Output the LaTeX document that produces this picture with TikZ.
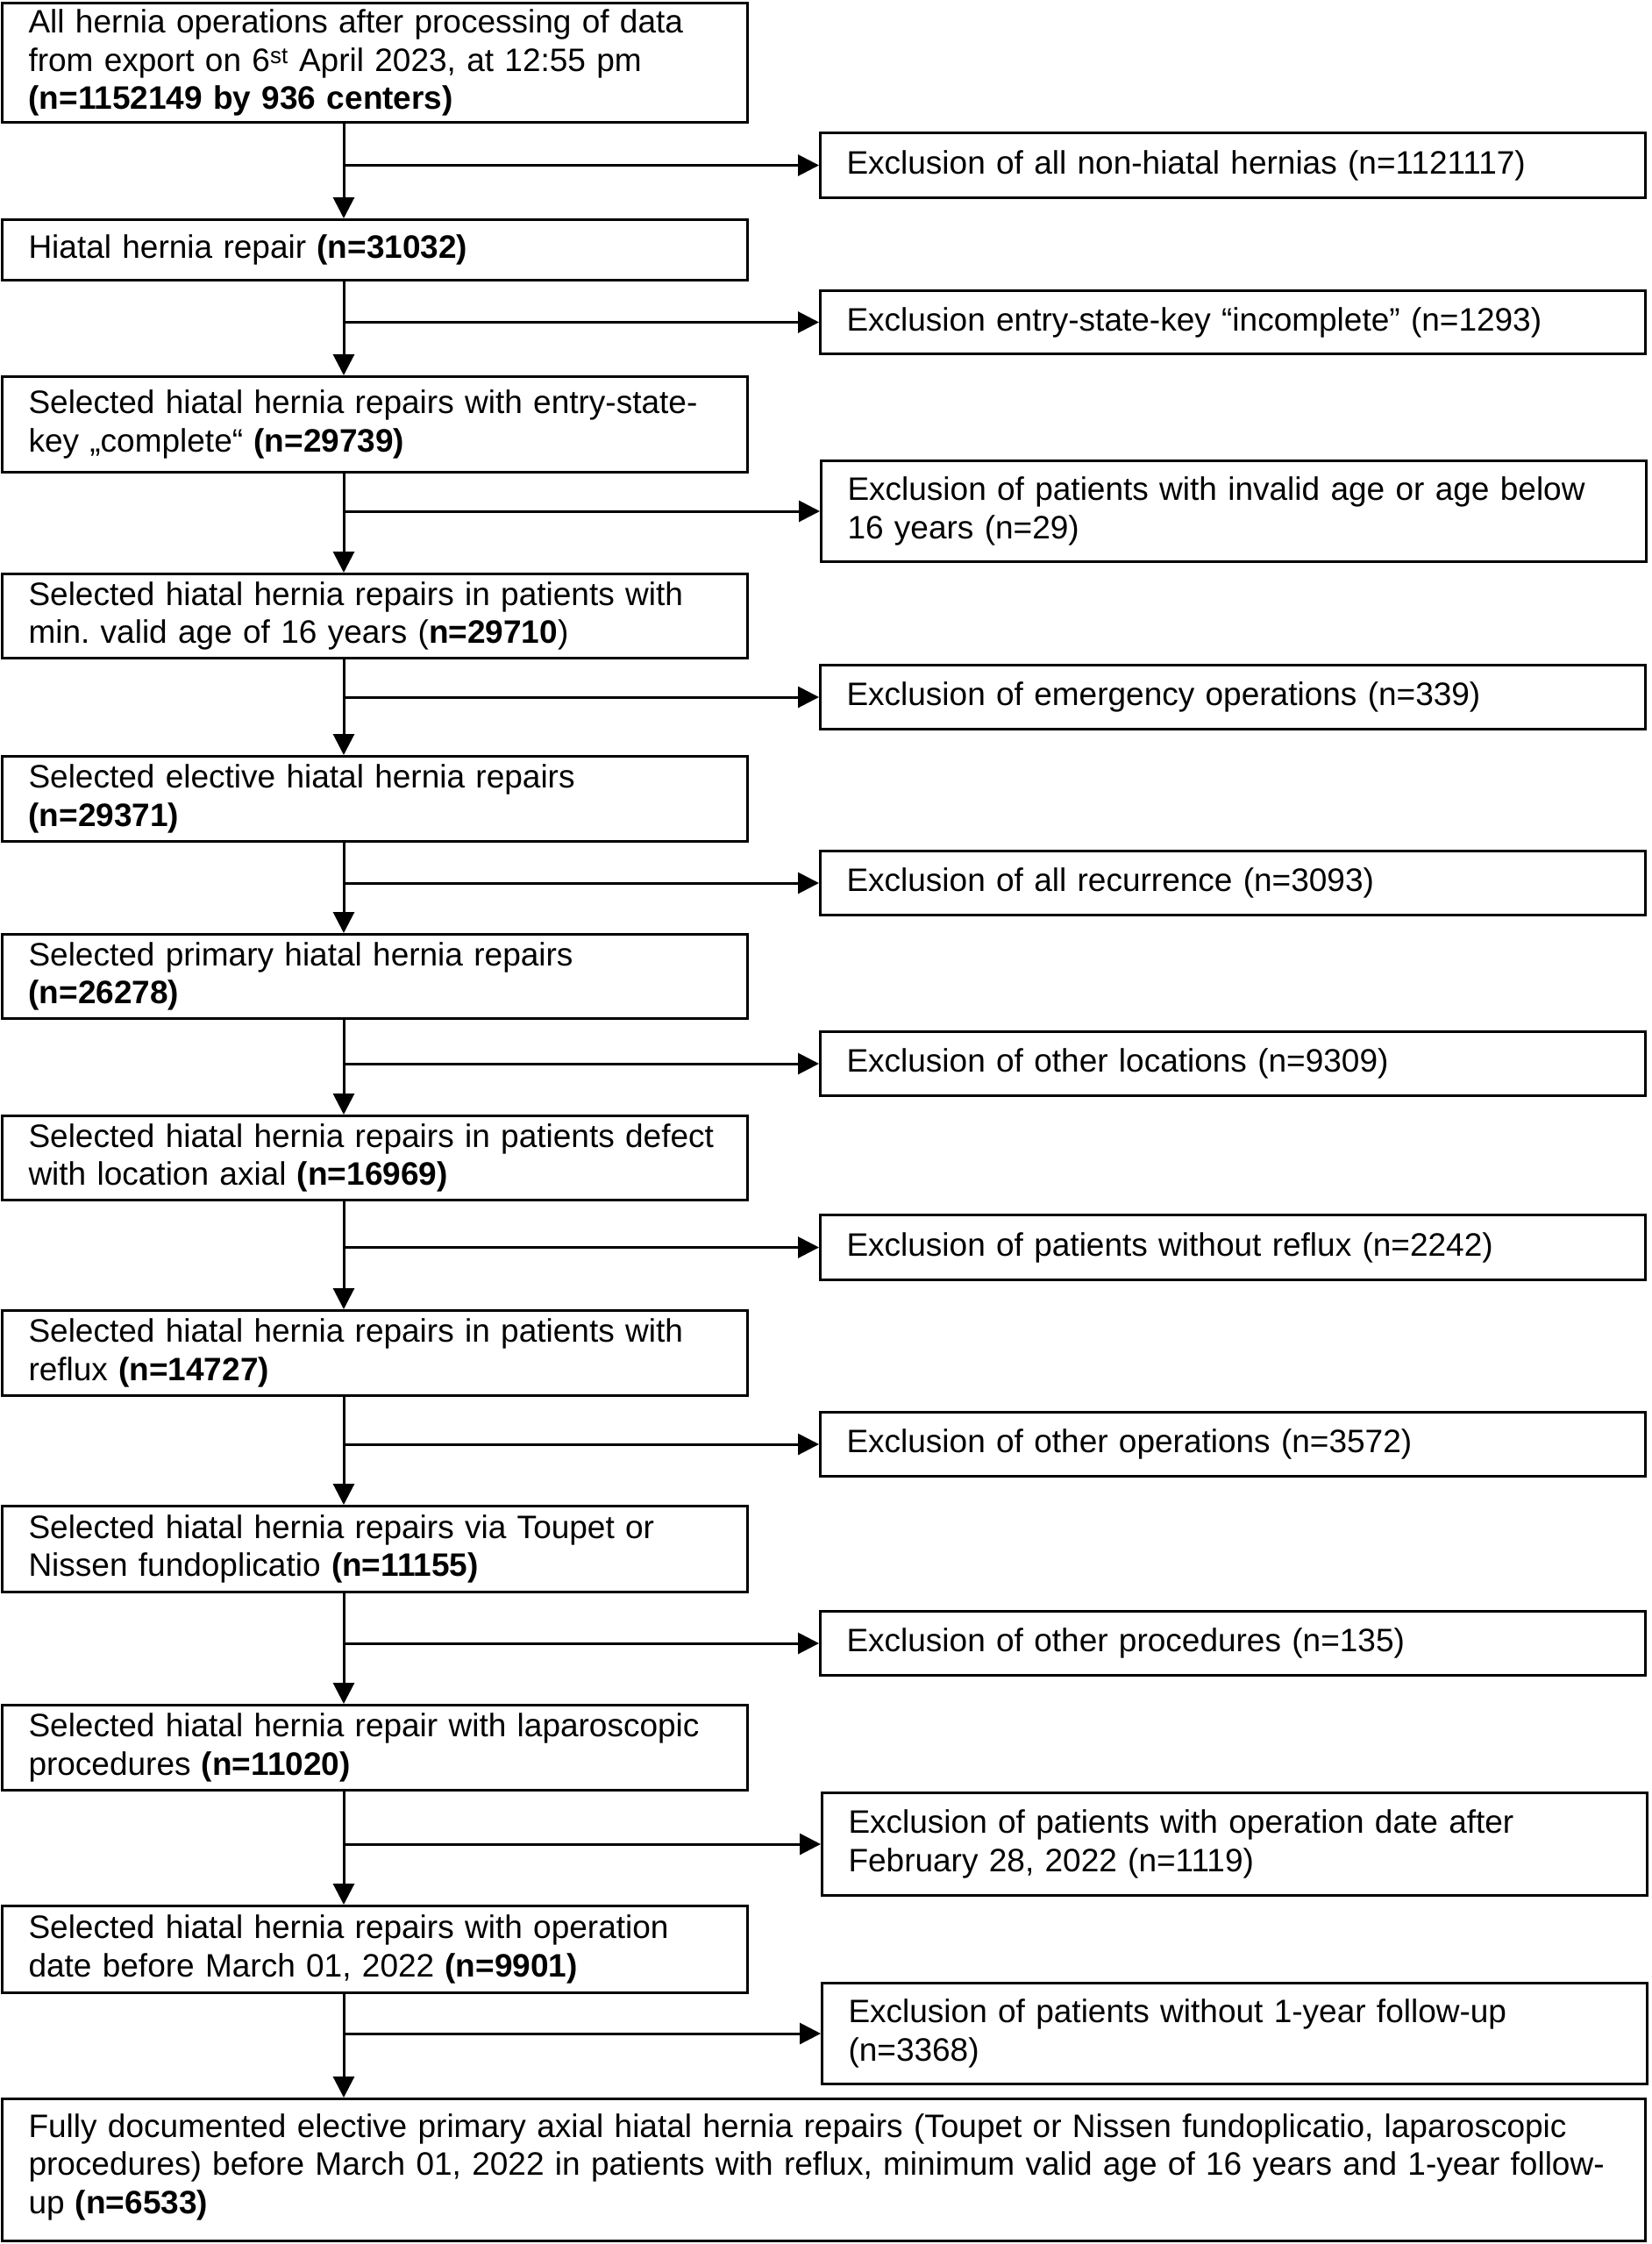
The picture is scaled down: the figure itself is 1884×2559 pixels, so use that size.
\documentclass[tikz,border=0pt]{standalone}
\usepackage{fontspec}
\setmainfont{Liberation Sans}
\usetikzlibrary{arrows.meta, positioning, calc}
\frenchspacing
\hyphenpenalty=10000

\tikzset{
  flowbox/.style={draw, line width=3pt, anchor=north west, align=left,
    inner xsep=30pt, inner ysep=4pt, font=\fontsize{37}{43.5}\selectfont},
  stagebox/.style={flowbox, text width=790pt, minimum height=#1},
  exclbox/.style={flowbox, text width=881pt, minimum height=#1},
  flowarrow/.style={line width=3pt, -{Triangle[length=24pt, width=24pt]}}
}

\begin{document}
\begin{tikzpicture}[x=1pt, y=1pt]
  \useasboundingbox (0,0) rectangle (1884,-2559);
  \coordinate (spine) at (392,0);

  % Selection steps (left column)
  \node[stagebox=136pt] (m1) at (1,-2) {All hernia operations after processing of data\\from export on 6\textsuperscript{st} April 2023, at 12:55 pm\\\textbf{(n=1152149 by 936 centers)}};
  \node[stagebox=69pt] (m2) at (1,-249) {Hiatal hernia repair \textbf{(n=31032)}};
  \node[stagebox=109pt] (m3) at (1,-428) {Selected hiatal hernia repairs with entry-state-\\key „complete“ \textbf{(n=29739)}};
  \node[stagebox=96pt] (m4) at (1,-653) {Selected hiatal hernia repairs in patients with\\min. valid age of 16 years (\textbf{n=29710})};
  \node[stagebox=97pt] (m5) at (1,-861) {Selected elective hiatal hernia repairs\\\textbf{(n=29371)}};
  \node[stagebox=96pt] (m6) at (1,-1064) {Selected primary hiatal hernia repairs\\\textbf{(n=26278)}};
  \node[stagebox=96pt] (m7) at (1,-1271) {Selected hiatal hernia repairs in patients defect\\with location axial \textbf{(n=16969)}};
  \node[stagebox=97pt] (m8) at (1,-1493) {Selected hiatal hernia repairs in patients with\\reflux \textbf{(n=14727)}};
  \node[stagebox=98pt] (m9) at (1,-1716) {Selected hiatal hernia repairs via Toupet or\\Nissen fundoplicatio \textbf{(n=11155)}};
  \node[stagebox=97pt] (m10) at (1,-1943) {Selected hiatal hernia repair with laparoscopic\\procedures \textbf{(n=11020)}};
  \node[stagebox=99pt] (m11) at (1,-2172) {Selected hiatal hernia repairs with operation\\date before March 01, 2022 \textbf{(n=9901)}};
  \node[flowbox, text width=1814pt, minimum height=162pt] (final) at (1,-2392) {Fully documented elective primary axial hiatal hernia repairs (Toupet or Nissen fundoplicatio, laparoscopic\\procedures) before March 01, 2022 in patients with reflux, minimum valid age of 16 years and 1-year follow-\\up \textbf{(n=6533)}\rule[-14pt]{0pt}{14pt}};

  % Exclusions (right column)
  \node[exclbox=74pt] (x1) at (934,-150) {Exclusion of all non-hiatal hernias (n=1121117)};
  \node[exclbox=72pt] (x2) at (934,-330) {Exclusion entry-state-key “incomplete” (n=1293)};
  \node[exclbox=115pt] (x3) at (935,-524) {Exclusion of patients with invalid age or age below\\16 years (n=29)};
  \node[exclbox=73pt] (x4) at (934,-757) {Exclusion of emergency operations (n=339)};
  \node[exclbox=73pt] (x5) at (934,-969) {Exclusion of all recurrence (n=3093)};
  \node[exclbox=73pt] (x6) at (934,-1175) {Exclusion of other locations (n=9309)};
  \node[exclbox=74pt] (x7) at (934,-1384) {Exclusion of patients without reflux (n=2242)};
  \node[exclbox=73pt] (x8) at (934,-1609) {Exclusion of other operations (n=3572)};
  \node[exclbox=73pt] (x9) at (934,-1836) {Exclusion of other procedures (n=135)};
  \node[exclbox=117pt] (x10) at (936,-2043) {Exclusion of patients with operation date after\\February 28, 2022 (n=1119)};
  \node[exclbox=115pt] (x11) at (936,-2260) {Exclusion of patients without 1-year follow-up\\(n=3368)};

  % Main flow
  \draw[flowarrow] (m1.south -| spine) -- (m2.north -| spine);
  \draw[flowarrow] (m2.south -| spine) -- (m3.north -| spine);
  \draw[flowarrow] (m3.south -| spine) -- (m4.north -| spine);
  \draw[flowarrow] (m4.south -| spine) -- (m5.north -| spine);
  \draw[flowarrow] (m5.south -| spine) -- (m6.north -| spine);
  \draw[flowarrow] (m6.south -| spine) -- (m7.north -| spine);
  \draw[flowarrow] (m7.south -| spine) -- (m8.north -| spine);
  \draw[flowarrow] (m8.south -| spine) -- (m9.north -| spine);
  \draw[flowarrow] (m9.south -| spine) -- (m10.north -| spine);
  \draw[flowarrow] (m10.south -| spine) -- (m11.north -| spine);
  \draw[flowarrow] (m11.south -| spine) -- (final.north -| spine);

  % Branches to exclusions
  \draw[flowarrow] (x1.west -| spine) -- (x1.west);
  \draw[flowarrow] (x2.west -| spine) -- (x2.west);
  \draw[flowarrow] (x3.west -| spine) -- (x3.west);
  \draw[flowarrow] (x4.west -| spine) -- (x4.west);
  \draw[flowarrow] (x5.west -| spine) -- (x5.west);
  \draw[flowarrow] (x6.west -| spine) -- (x6.west);
  \draw[flowarrow] (x7.west -| spine) -- (x7.west);
  \draw[flowarrow] (x8.west -| spine) -- (x8.west);
  \draw[flowarrow] (x9.west -| spine) -- (x9.west);
  \draw[flowarrow] (x10.west -| spine) -- (x10.west);
  \draw[flowarrow] (x11.west -| spine) -- (x11.west);
\end{tikzpicture}
\end{document}
